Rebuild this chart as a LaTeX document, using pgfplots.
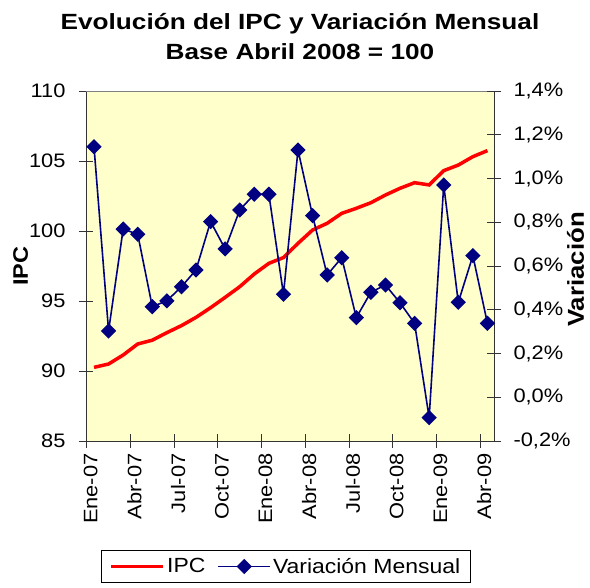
\documentclass[border=0pt]{standalone}
\usepackage{fontspec}
\setmainfont[FakeStretch=1.12]{Liberation Sans}
\newfontfamily\titlefont[FakeStretch=1.19]{Liberation Sans}
\usepackage{pgfplots}
\usepackage{pgfplotstable}
\pgfplotsset{compat=1.18}
\definecolor{bgyel}{HTML}{FFFFCC}
\definecolor{navy}{HTML}{000080}

\pgfplotstableread{
x ipc var
0 90.26 1.145
1 90.50 0.303
2 91.14 0.769
3 91.93 0.745
4 92.20 0.414
5 92.74 0.441
6 93.24 0.505
7 93.83 0.582
8 94.52 0.803
9 95.26 0.678
10 96.02 0.856
11 96.93 0.928
12 97.69 0.928
13 98.10 0.471
14 99.12 1.130
15 100.07 0.830
16 100.55 0.559
17 101.26 0.638
18 101.62 0.364
19 102.02 0.480
20 102.57 0.513
21 103.05 0.432
22 103.45 0.338
23 103.29 -0.093
24 104.31 0.970
25 104.71 0.434
26 105.31 0.647
27 105.74 0.338
}\datatab

\begin{document}
\begin{tikzpicture}
\begin{axis}[
  scale only axis, width=408pt, height=350pt,
  xmin=-0.55, xmax=27.45,
  ymin=85, ymax=110, ytick={85,90,95,100,105,110},
  axis x line=bottom, axis y line=left,
  axis line style={-, black!80, line width=0.9pt},
  axis background/.style={fill=bgyel},
  tick align=center, major tick length=14pt,
  tick style={black!80, line width=0.9pt},
  xtick={-0.5,2.5,5.5,8.5,11.5,14.5,17.5,20.5,23.5,26.5},
  xticklabels={},
  extra x ticks={-0.23,2.77,5.77,8.77,11.77,14.77,17.77,20.77,23.77,26.77},
  extra x tick labels={Ene-07,Abr-07,Jul-07,Oct-07,Ene-08,Abr-08,Jul-08,Oct-08,Ene-09,Abr-09},
  extra x tick style={major tick length=0pt, xticklabel style={rotate=90, anchor=east, xshift=-9pt, font=\fontsize{19.5}{22}\selectfont}},
  yticklabel style={font=\fontsize{19.5}{22}\selectfont, xshift=-10pt, /pgf/number format/assume math mode=true},
  ylabel={IPC},
  ylabel style={font=\bfseries\fontsize{21}{24}\selectfont, at={(axis description cs:-0.16,0.5)}, anchor=center},
  title={Evolución del IPC y Variación Mensual\\Base Abril 2008 = 100},
  title style={align=center, font=\titlefont\bfseries\fontsize{22}{30}\selectfont, at={(axis description cs:0.5245,1)}, anchor=south, yshift=22pt},
]
\coordinate (O) at (rel axis cs:0,0);
\addplot[red, line width=3.5pt] table[x=x,y=ipc]{\datatab};
\draw[gray, line width=0.8pt] (rel axis cs:0,1) -- (rel axis cs:1,1);
\end{axis}
\begin{axis}[
  scale only axis, width=408pt, height=350pt,
  xmin=-0.55, xmax=27.45,
  ymin=-0.2, ymax=1.4, ytick={-0.2,0,0.2,0.4,0.6,0.8,1.0,1.2,1.4},
  axis x line=none, axis y line*=right,
  axis line style={-, black!80, line width=0.9pt},
  tick align=center, major tick length=14pt,
  tick style={black!80, line width=0.9pt},
  yticklabel={\pgfmathprintnumber{\tick}\%},
  yticklabel style={font=\fontsize{19.5}{22}\selectfont, xshift=9pt, /pgf/number format/.cd, fixed, fixed zerofill, precision=1, use comma, assume math mode=true},
  ylabel={Variación},
  ylabel style={font=\bfseries\fontsize{23}{26}\selectfont, at={(axis description cs:1.2,0.49)}, anchor=center},
  legend style={at={(axis description cs:0.49,-0.311)}, anchor=north, draw=black, line width=0.6pt, legend columns=2, font=\fontsize{20.5}{23}\selectfont, inner ysep=6pt, inner xsep=8pt, /tikz/every even column/.append style={column sep=10pt}},
  legend image code/.code={\draw[mark repeat=2, mark phase=2, #1] plot coordinates {(0pt,0pt) (26pt,0pt) (52pt,0pt)};},
]
\addlegendimage{red, line width=3.5pt}
\addlegendentry{IPC}
\addplot[navy, line width=1.6pt, mark=square*, mark size=4.6pt, mark options={rotate=45, solid}] table[x=x,y=var]{\datatab};
\addlegendentry{Variación Mensual}
\end{axis}
\pgfresetboundingbox
\path[use as bounding box] (O) ++(-86pt,-147pt) rectangle ++(590pt,588pt);
\end{tikzpicture}
\end{document}
